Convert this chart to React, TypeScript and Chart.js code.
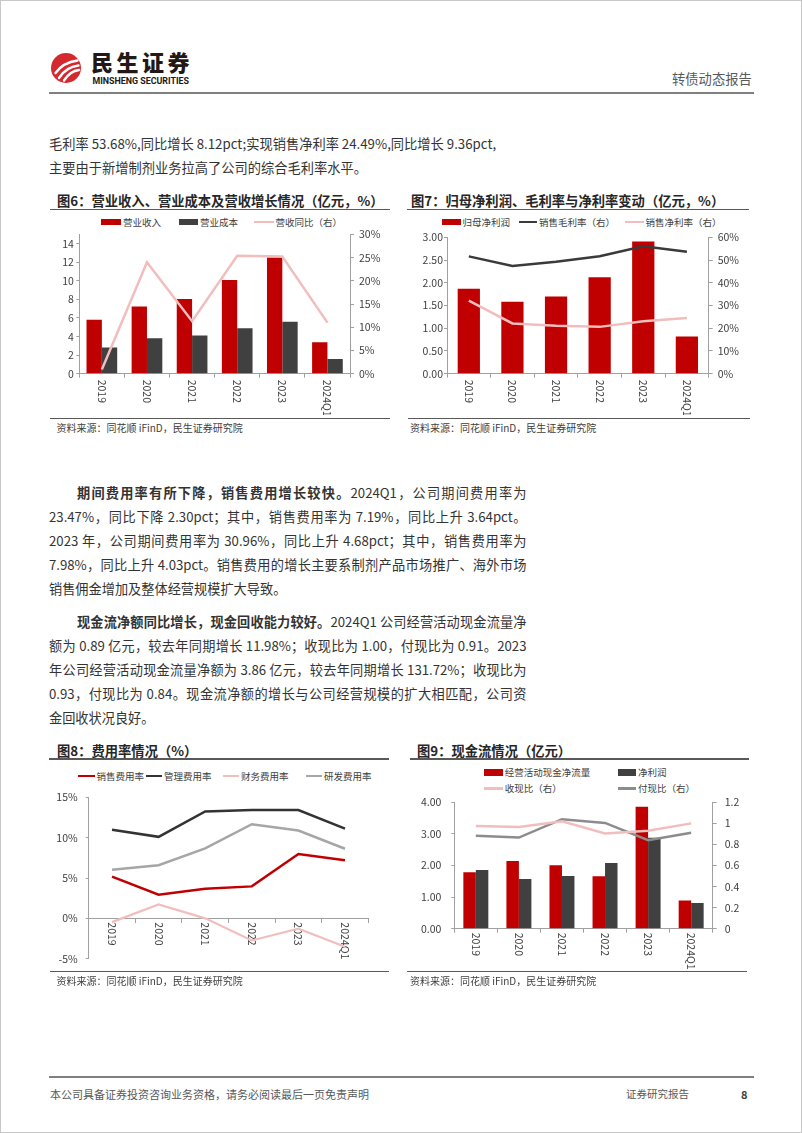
import React, { useEffect, useRef } from 'react';
import { Chart, registerables } from 'chart.js';

Chart.register(...registerables);

const FONT = '"Noto Sans CJK SC", "Noto Sans", sans-serif';
const RED = '#C00000';
const DARK = '#404040';
const PINK = '#F2BDBD';
const GRAY = '#A6A6A6';
const GRAY2 = '#8C8C8C';
const AXIS = '#A0A0A0';
const TICK = '#404040';

// ---------- data ----------
const years = ['2019', '2020', '2021', '2022', '2023', '2024Q1'];

// Fig 6
const revenue = [5.81, 7.23, 8.05, 10.08, 12.5, 3.38];
const cost = [2.81, 3.81, 4.1, 4.88, 5.59, 1.57];
const revenueYoY = [0.9, 24.0, 11.3, 25.4, 25.2, 11.0];

// Fig 7
const netProfitParent = [1.87, 1.58, 1.7, 2.12, 2.91, 0.82];
const grossMargin = [51.6, 47.4, 49.2, 51.7, 56.1, 53.68];
const netMargin = [32.1, 22.1, 21.1, 20.6, 23.1, 24.49];

// Fig 8
const sellingRate = [5.17, 2.94, 3.68, 3.96, 7.98, 7.19];
const adminRate = [10.97, 10.1, 13.24, 13.43, 13.43, 11.12];
const financeRate = [-0.47, 1.72, 0.0, -2.74, -1.29, -3.53];
const rdRate = [6.03, 6.58, 8.66, 11.67, 10.89, 8.62];

// Fig 9
const opCashFlow = [1.79, 2.14, 2.01, 1.66, 3.86, 0.89];
const netProfit = [1.86, 1.57, 1.67, 2.08, 2.88, 0.81];
const cashReceiptRatio = [0.974, 0.965, 1.019, 0.905, 0.93, 1.0];
const cashPaymentRatio = [0.883, 0.865, 1.04, 1.004, 0.84, 0.91];

// tick formats
const fmtInt = (v: any) => String(v);
const fmtPct = (v: any) => `${v}%`;
const fmt2 = (v: any) => Number(v).toFixed(2);
const fmt1 = (v: any) => String(Math.round(Number(v) * 10) / 10);

// ---------- chart helpers ----------
const rotatedXLabels = {
  id: 'rotatedXLabels',
  beforeDatasetsDraw(chart: any, _args: any, opts: any) {
    const xs = chart.scales.x;
    const ctx = chart.ctx;
    const base = opts.zeroAxis ? chart.scales.y.getPixelForValue(0) : xs.top;
    ctx.save();
    ctx.font = `${opts.size || 10.5}px ${FONT}`;
    ctx.fillStyle = opts.color || TICK;
    ctx.textAlign = 'left';
    ctx.textBaseline = 'middle';
    (chart.data.labels as string[]).forEach((lab, i) => {
      const x = xs.getPixelForValue(i);
      ctx.save();
      ctx.translate(x, base + (opts.offset ?? 5));
      ctx.rotate(Math.PI / 2);
      ctx.fillText(String(lab), 0, 0);
      ctx.restore();
    });
    ctx.restore();
  },
};

function yAxis(position: string, min: number, max: number, step: number, fmt: any, width: number, tl: number, pad: number) {
  return {
    type: 'linear',
    position,
    min,
    max,
    bounds: 'data',
    grid: { display: true, drawOnChartArea: false, drawTicks: true, tickLength: tl, color: AXIS, lineWidth: 1 },
    border: { display: true, color: AXIS, width: 1 },
    ticks: {
      stepSize: step,
      includeBounds: false,
      padding: pad,
      color: TICK,
      font: { size: 10.5, family: FONT },
      callback: fmt,
      autoSkip: false,
    },
    afterBuildTicks: (s: any) => {
      s.ticks = s.ticks.filter((t: any) => Math.abs((t.value - min) / step - Math.round((t.value - min) / step)) < 1e-6);
    },
    afterFit: (s: any) => {
      s.width = width;
    },
  };
}

function xAxis(height: number, extra: any = {}) {
  return {
    type: 'category',
    offset: true,
    grid: { display: true, drawOnChartArea: false, drawTicks: true, tickLength: 4, color: AXIS, offset: true },
    border: { display: true, color: AXIS, width: 1 },
    ticks: { display: false },
    afterFit: (s: any) => {
      s.height = height;
    },
    ...extra,
  };
}

function baseOptions(padding: any, offset: number, scales: any, zeroAxis = false) {
  return {
    responsive: false,
    maintainAspectRatio: false,
    animation: false,
    events: [],
    layout: { padding },
    plugins: {
      legend: { display: false },
      tooltip: { enabled: false },
      rotatedXLabels: { offset, size: 10.5, zeroAxis },
    },
    scales,
  };
}

function lineDs(label: string, data: number[], color: string, yAxisID: string, width = 2.5) {
  return {
    type: 'line',
    label,
    data,
    yAxisID,
    borderColor: color,
    backgroundColor: color,
    borderWidth: width,
    pointRadius: 0,
    pointHoverRadius: 0,
    tension: 0,
    fill: false,
    order: 0,
  };
}

function barDs(label: string, data: number[], color: string, catPct: number) {
  return {
    type: 'bar',
    label,
    data,
    yAxisID: 'y',
    backgroundColor: color,
    borderWidth: 0,
    categoryPercentage: catPct,
    barPercentage: 1,
    order: 1,
  };
}

const fig6Config = () => ({
  type: 'bar',
  data: {
    labels: years,
    datasets: [
      lineDs('营收同比（右）', revenueYoY, PINK, 'y1', 2.5),
      barDs('营业收入', revenue, RED, 0.68),
      barDs('营业成本', cost, DARK, 0.68),
    ],
  },
  options: baseOptions({ top: 10.3, left: 0, right: 0, bottom: 0 }, 6, {
    x: xAxis(41.3),
    y: yAxis('left', 0, 15, 2, fmtInt, 30.3, 3, 2.5),
    y1: yAxis('right', 0, 30, 5, fmtPct, 49, 4, 5),
  }),
  plugins: [rotatedXLabels],
});

const fig7Config = () => ({
  type: 'bar',
  data: {
    labels: years,
    datasets: [
      lineDs('销售毛利率（右）', grossMargin, '#3A3A3A', 'y1', 2.5),
      lineDs('销售净利率（右）', netMargin, PINK, 'y1', 2.5),
      barDs('归母净利润', netProfitParent, RED, 0.51),
    ],
  },
  options: baseOptions({ top: 10, left: 0, right: 0, bottom: 0 }, 6, {
    x: xAxis(41.3),
    y: yAxis('left', 0, 3, 0.5, fmt2, 41, 3, 1),
    y1: yAxis('right', 0, 60, 10, fmtPct, 47.3, 4, 5),
  }),
  plugins: [rotatedXLabels],
});

const fig8Config = () => ({
  type: 'line',
  data: {
    labels: years,
    datasets: [
      lineDs('销售费用率', sellingRate, RED, 'y', 2.5),
      lineDs('管理费用率', adminRate, '#333333', 'y', 2.5),
      lineDs('财务费用率', financeRate, PINK, 'y', 2.2),
      lineDs('研发费用率', rdRate, GRAY, 'y', 2.5),
    ],
  },
  options: baseOptions(
    { top: 9.7, left: 0, right: 25.7, bottom: 10.3 },
    4,
    {
      x: xAxis(20, { position: { y: 0 } }),
      y: yAxis('left', -5, 15, 5, fmtPct, 39.7, 3, 8),
    },
    true
  ),
  plugins: [rotatedXLabels],
});

const fig9Config = () => ({
  type: 'bar',
  data: {
    labels: years,
    datasets: [
      lineDs('收现比（右）', cashReceiptRatio, PINK, 'y1', 2.5),
      lineDs('付现比（右）', cashPaymentRatio, GRAY2, 'y1', 2.5),
      barDs('经营活动现金净流量', opCashFlow, RED, 0.58),
      barDs('净利润', netProfit, DARK, 0.58),
    ],
  },
  options: baseOptions({ top: 10, left: 0, right: 0, bottom: 0 }, 4, {
    x: xAxis(42.3),
    y: yAxis('left', 0, 4, 1, fmt2, 48.3, 3, 10),
    y1: yAxis('right', 0, 1.2, 0.2, fmt1, 43.3, 4, 8),
  }),
  plugins: [rotatedXLabels],
});

// ---------- DOM helpers ----------
function ChartBox({ x, y, w, h, config }: any) {
  const ref = useRef<HTMLCanvasElement>(null);
  useEffect(() => {
    const c = new Chart(ref.current as HTMLCanvasElement, config() as any);
    return () => c.destroy();
  }, []);
  return (
    <canvas
      ref={ref}
      width={w}
      height={h}
      style={{ position: 'absolute', left: x, top: y, width: w, height: h, display: 'block' }}
    />
  );
}

function T({ x, y, size, color = '#333', bold = false, children, lh = 20 }: any) {
  return (
    <div
      style={{
        position: 'absolute',
        left: x,
        top: y - lh / 2,
        lineHeight: `${lh}px`,
        fontSize: size,
        color,
        fontWeight: bold ? 700 : 400,
        whiteSpace: 'nowrap',
        fontFamily: FONT,
      }}
    >
      {children}
    </div>
  );
}

function JLine({ x, y, w, size, color = '#333', children, last = false, lh = 20 }: any) {
  return (
    <div
      style={{
        position: 'absolute',
        left: x,
        top: y - lh / 2,
        width: w,
        lineHeight: `${lh}px`,
        height: lh,
        fontSize: size,
        color,
        fontFamily: FONT,
        textAlign: last ? 'left' : 'justify',
        textAlignLast: last ? 'left' : 'justify',
        overflow: 'visible',
      }}
    >
      {children}
    </div>
  );
}

function HLine({ x1, x2, y, t = 1, color = '#7F7F7F' }: any) {
  return <div style={{ position: 'absolute', left: x1, top: y - t / 2, width: x2 - x1, height: t, background: color }} />;
}

function LegBox({ x, y, w = 19, h = 6, color, text }: any) {
  return (
    <>
      <div style={{ position: 'absolute', left: x, top: y - h / 2, width: w, height: h, background: color }} />
      <T x={x + w + 2} y={y} size={9.5} color="#404040" lh={14}>
        {text}
      </T>
    </>
  );
}

function LegLine({ x, y, w = 19, t = 2.5, color, text }: any) {
  return (
    <>
      <div style={{ position: 'absolute', left: x, top: y - t / 2, width: w, height: t, background: color }} />
      <T x={x + w + 2} y={y} size={9.5} color="#404040" lh={14}>
        {text}
      </T>
    </>
  );
}

function Logo() {
  const cx = 64.5;
  const cy = 66.5;
  return (
    <>
      <svg style={{ position: 'absolute', left: cx - 16, top: cy - 16 }} width={32} height={32} viewBox="-16 -16 32 32">
        <circle cx={0} cy={0} r={15} fill="#D42A2F" />
        <path d="M -10.5 5 Q -3 -5.5 11.5 -7.5" stroke="#fff" strokeWidth={2.4} fill="none" strokeLinecap="round" />
        <path d="M -7 10 Q 0 -1 12.5 -2.5" stroke="#fff" strokeWidth={2.4} fill="none" strokeLinecap="round" />
        <path d="M -2 12.5 Q 4 3 13 2" stroke="#fff" strokeWidth={2.4} fill="none" strokeLinecap="round" />
      </svg>
      <div
        style={{
          position: 'absolute',
          left: 90,
          top: 46,
          lineHeight: '28px',
          fontSize: 22,
          fontWeight: 900,
          letterSpacing: 3.5,
          color: '#231815',
          fontFamily: FONT,
          whiteSpace: 'nowrap',
        }}
      >
        民生证券
      </div>
      <svg style={{ position: 'absolute', left: 91, top: 74 }} width={100} height={11}>
        <text
          x={0.5}
          y={8.6}
          textLength={96.5}
          lengthAdjust="spacingAndGlyphs"
          style={{ fontFamily: 'Roboto, "Liberation Sans", sans-serif', fontWeight: 700, fontSize: 9.2 }}
          fill="#231815"
        >
          MINSHENG SECURITIES
        </text>
      </svg>
    </>
  );
}

export default function App() {
  const bodyX = 48;
  const bodyW = 477.5;
  const bs = 13.2;
  return (
    <div
      style={{
        position: 'absolute',
        left: 0,
        top: 0,
        width: 802,
        height: 1133,
        background: '#fff',
        overflow: 'hidden',
        fontFamily: FONT,
        boxSizing: 'border-box',
        border: '1px solid #C8C8C8',
      }}
    >
      {/* header */}
      <Logo />
      <T x={671} y={78.3} size={13.3} color="#595959">
        转债动态报告
      </T>
      <HLine x1={48} x2={753} y={92} t={2} color="#808080" />

      {/* top paragraph */}
      <T x={48} y={143.3} size={13.25} color="#333">
        毛利率 53.68%,同比增长 8.12pct;实现销售净利率 24.49%,同比增长 9.36pct,
      </T>
      <T x={48} y={166.7} size={13.25} color="#333">
        主要由于新增制剂业务拉高了公司的综合毛利率水平。
      </T>

      {/* figure 6 */}
      <T x={56} y={200} size={13.3} bold color="#262626">
        图6：营业收入、营业成本及营收增长情况（亿元，%）
      </T>
      <HLine x1={49} x2={389} y={208.3} t={1.5} color="#595959" />
      <LegBox x={100} y={221} w={20} color={RED} text="营业收入" />
      <LegBox x={177.5} y={221} w={19.5} color={DARK} text="营业成本" />
      <LegLine x={253} y={221} w={19.5} t={2} color={PINK} text="营收同比（右）" />
      <ChartBox x={48} y={222} w={350} h={192} config={fig6Config} />
      <HLine x1={49} x2={389} y={417.7} t={1.3} color="#595959" />
      <T x={55.5} y={427} size={10} color="#404040">
        资料来源：同花顺 iFinD，民生证券研究院
      </T>

      {/* figure 7 */}
      <T x={410} y={200} size={13.3} bold color="#262626">
        图7：归母净利润、毛利率与净利率变动（亿元，%）
      </T>
      <HLine x1={406} x2={748} y={208.3} t={1.5} color="#595959" />
      <LegBox x={441} y={221} w={18.5} color={RED} text="归母净利润" />
      <LegLine x={517.5} y={221} w={18.5} color="#3A3A3A" text="销售毛利率（右）" />
      <LegLine x={624} y={221} w={18.5} t={2} color={PINK} text="销售净利率（右）" />
      <ChartBox x={405} y={225} w={350} h={189} config={fig7Config} />
      <HLine x1={407} x2={749} y={417.7} t={1.3} color="#595959" />
      <T x={409} y={427} size={10} color="#404040">
        资料来源：同花顺 iFinD，民生证券研究院
      </T>

      {/* body paragraph 1 */}
      <JLine x={76} y={492.3} w={bodyW - 28} size={bs}>
        <b>期间费用率有所下降，销售费用增长较快。</b>2024Q1，公司期间费用率为
      </JLine>
      <JLine x={bodyX} y={516} w={bodyW} size={bs}>
        23.47%，同比下降 2.30pct；其中，销售费用率为 7.19%，同比上升 3.64pct。
      </JLine>
      <JLine x={bodyX} y={540} w={bodyW} size={bs}>
        2023 年，公司期间费用率为 30.96%，同比上升 4.68pct；其中，销售费用率为
      </JLine>
      <JLine x={bodyX} y={564} w={bodyW} size={bs}>
        7.98%，同比上升 4.03pct。销售费用的增长主要系制剂产品市场推广、海外市场
      </JLine>
      <JLine x={bodyX} y={588} w={bodyW} size={bs} last>
        销售佣金增加及整体经营规模扩大导致。
      </JLine>

      {/* body paragraph 2 */}
      <JLine x={76} y={621.3} w={bodyW - 28} size={bs}>
        <b>现金流净额同比增长，现金回收能力较好。</b>2024Q1 公司经营活动现金流量净
      </JLine>
      <JLine x={bodyX} y={645} w={bodyW} size={bs}>
        额为 0.89 亿元，较去年同期增长 11.98%；收现比为 1.00，付现比为 0.91。2023
      </JLine>
      <JLine x={bodyX} y={668.7} w={bodyW} size={bs}>
        年公司经营活动现金流量净额为 3.86 亿元，较去年同期增长 131.72%；收现比为
      </JLine>
      <JLine x={bodyX} y={692.7} w={bodyW} size={bs}>
        0.93，付现比为 0.84。现金流净额的增长与公司经营规模的扩大相匹配，公司资
      </JLine>
      <JLine x={bodyX} y={717.3} w={bodyW} size={bs} last>
        金回收状况良好。
      </JLine>

      {/* figure 8 */}
      <T x={56} y={749.5} size={13.3} bold color="#262626">
        图8：费用率情况（%）
      </T>
      <HLine x1={48} x2={388} y={758} t={1.5} color="#595959" />
      <LegLine x={76.5} y={775} w={17} color={RED} text="销售费用率" />
      <LegLine x={145} y={775} w={16} color="#333333" text="管理费用率" />
      <LegLine x={221.5} y={775} w={16.5} t={2} color={PINK} text="财务费用率" />
      <LegLine x={305} y={775} w={16} color={GRAY} text="研发费用率" />
      <ChartBox x={48} y={782} w={345} h={190} config={fig8Config} />
      <HLine x1={49} x2={388} y={970.7} t={1.3} color="#595959" />
      <T x={55.5} y={980} size={10} color="#404040">
        资料来源：同花顺 iFinD，民生证券研究院
      </T>

      {/* figure 9 */}
      <T x={416} y={749.5} size={13.3} bold color="#262626">
        图9：现金流情况（亿元）
      </T>
      <HLine x1={409} x2={748} y={758} t={1.5} color="#595959" />
      <LegBox x={482.7} y={771} w={19} h={7} color={RED} text="经营活动现金净流量" />
      <LegBox x={617} y={771} w={18} h={7} color={DARK} text="净利润" />
      <LegLine x={482.7} y={787.3} w={19} color={PINK} text="收现比（右）" />
      <LegLine x={617} y={787.3} w={18} color={GRAY2} text="付现比（右）" />
      <ChartBox x={405} y={785} w={350} h={185} config={fig9Config} />
      <HLine x1={406} x2={746} y={970.7} t={1.3} color="#595959" />
      <T x={409} y={980} size={10} color="#404040">
        资料来源：同花顺 iFinD，民生证券研究院
      </T>

      {/* footer */}
      <HLine x1={48} x2={753} y={1076} t={1.5} color="#808080" />
      <T x={49} y={1093} size={11} color="#595959">
        本公司具备证券投资咨询业务资格，请务必阅读最后一页免责声明
      </T>
      <T x={625} y={1093} size={10.5} color="#595959">
        证券研究报告
      </T>
      <T x={740} y={1093} size={11} bold color="#404040">
        8
      </T>
    </div>
  );
}
